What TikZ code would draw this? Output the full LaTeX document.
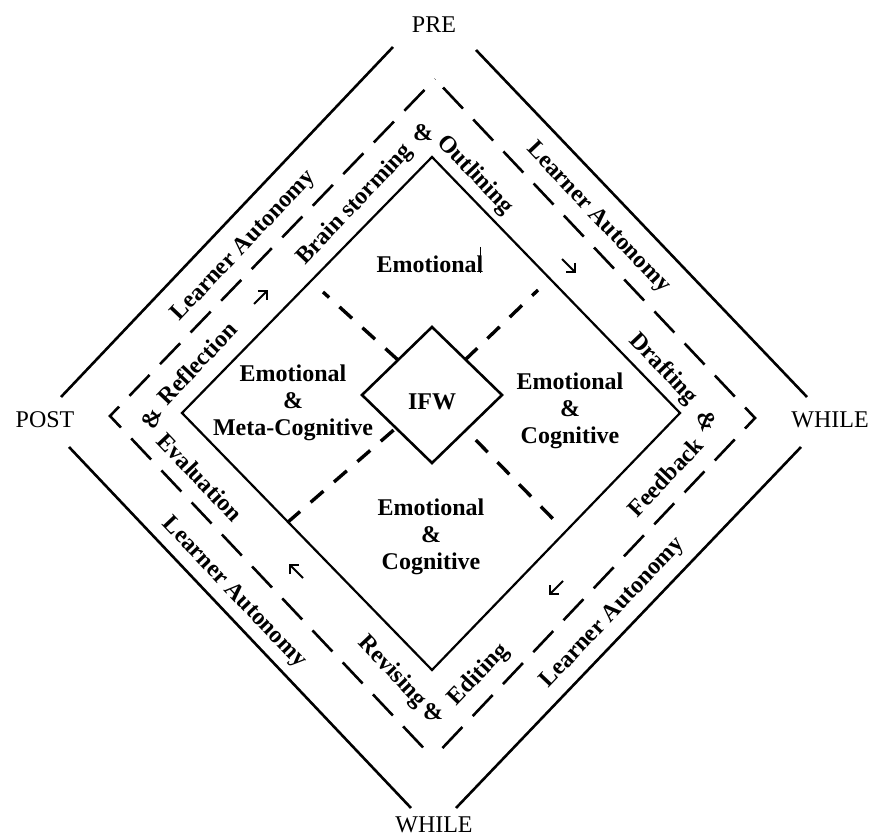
\documentclass[tikz,border=0pt]{standalone}
\usepackage{fontspec}
\setmainfont{Liberation Serif}
\usetikzlibrary{arrows.meta}
\begin{document}
\begin{tikzpicture}[x=0.5pt,y=-0.5pt,
  outer/.style={line width=1.3pt},
  dashedge/.style={line width=1.3pt, dash pattern=on 14.5pt off 7.5pt},
  innerline/.style={line width=1.1pt, line join=miter},
  quad/.style={line width=1.7pt, dash pattern=on 8.5pt off 7pt},
  flow/.style={line width=1pt, -{Straight Barb[length=3.2pt,width=6.4pt]}},
  lbl/.style={inner sep=0pt, font=\fontsize{12}{13.5}\selectfont\bfseries, align=center},
  phase/.style={inner sep=0pt, font=\fontsize{12}{14}\selectfont},
]
\useasboundingbox (0,0) rectangle (872,839);

% outer solid diamond (open corners)
\coordinate (o1a) at (61,397);  \coordinate (o1b) at (393,47);
\coordinate (o2a) at (476,50);  \coordinate (o2b) at (807,397);
\coordinate (o3a) at (69,447);  \coordinate (o3b) at (411,808);
\coordinate (o4a) at (801,447); \coordinate (o4b) at (456,808);
\draw[outer] (o1a) -- (o1b);
\draw[outer] (o2a) -- (o2b);
\draw[outer] (o3a) -- (o3b);
\draw[outer] (o4a) -- (o4b);

% dashed diamond
\coordinate (dT) at (435,79);
\coordinate (dL) at (110,416);
\coordinate (dR) at (755,418);
\coordinate (dB) at (433,758);
\draw[dashedge, dash phase=14.45pt] (dT) -- (dL) -- (dB);
\draw[dashedge, dash phase=16.15pt] (dT) -- (dR) -- (dB);

% inner solid diamond
\coordinate (iT) at (432,157);
\coordinate (iL) at (182,413);
\coordinate (iR) at (680,413);
\coordinate (iB) at (432,670);
\draw[innerline] (iT) -- (iR) -- (iB) -- (iL) -- cycle;

% central IFW diamond
\coordinate (cT) at (432,327);
\coordinate (cL) at (362,395);
\coordinate (cR) at (502,395);
\coordinate (cB) at (432,463);
\draw[outer] (cT) -- (cR) -- (cB) -- (cL) -- cycle;
\node[lbl] (ifw) at (432,402) {IFW};

% quadrant dashed dividers
\coordinate (q1a) at (398,360); \coordinate (q1b) at (323,292);
\coordinate (q2a) at (465,360); \coordinate (q2b) at (538,290);
\coordinate (q3a) at (396,428); \coordinate (q3b) at (288,522);
\coordinate (q4a) at (466,430); \coordinate (q4b) at (557,523);
\draw[quad] (q1a) -- (q1b);
\draw[quad] (q2a) -- (q2b);
\draw[quad, dash phase=13.9pt] (q3a) -- (q3b);
\draw[quad, dash phase=8.5pt] (q4a) -- (q4b);

% quadrant texts
\node[lbl] (qtop) at (430,264) {Emotional};
\draw[line width=0.8pt] (480.5,247) -- (480.5,273);
\node[lbl] (qleft) at (293,403) {Emotional\\\&\\Meta-Cognitive};
\node[lbl] (qright) at (570,411) {Emotional\\\&\\Cognitive};
\node[lbl] (qbottom) at (431,537) {Emotional\\\&\\Cognitive};

% corner labels
\node[phase] (pre) at (434,25) {PRE};
\node[phase] (post) at (45,420) {POST};
\node[phase] (whileR) at (830,420) {WHILE};
\node[phase] (whileB) at (434,825) {WHILE};

% learner autonomy labels
\node[lbl, rotate=46.5] (la1) at (244,246) {Learner Autonomy};
\node[lbl, rotate=-46.5] (la2) at (598,218) {Learner Autonomy};
\node[lbl, rotate=46.5] (la3) at (613,613) {Learner Autonomy};
\node[lbl, rotate=-46.5] (la4) at (234,593) {Learner Autonomy};

% process labels
\node[lbl, rotate=46.5] (brain) at (355,205) {Brain storming};
\node[lbl] (amp1) at (423,133) {\&};
\node[lbl, rotate=-46.5] (outl) at (475,175) {Outlining};
\node[lbl, rotate=-46.5] (draft) at (663,369) {Drafting};
\node[lbl, rotate=-70] (amp2) at (707,421) {\&};
\node[lbl, rotate=46.5] (feed) at (665,477) {Feedback};
\node[lbl, rotate=46.5] (edit) at (479,675) {Editing};
\node[lbl] (amp3) at (433,712) {\&};
\node[lbl, rotate=-46.5] (revis) at (392,672) {Revising};
\node[lbl, rotate=-46.5] (evalu) at (200,477) {Evaluation};
\node[lbl, rotate=70] (amp4) at (152,418) {\&};
\node[lbl, rotate=46.5] (refl) at (197,363) {Reflection};

% flow arrows
\coordinate (a1s) at (254,304); \coordinate (a1e) at (268,290);
\coordinate (a2s) at (562,259); \coordinate (a2e) at (576,273);
\coordinate (a3s) at (563,581); \coordinate (a3e) at (549,595);
\coordinate (a4s) at (303,578); \coordinate (a4e) at (289,564);
\draw[flow] (a1s) -- (a1e);
\draw[flow] (a2s) -- (a2e);
\draw[flow] (a3s) -- (a3e);
\draw[flow] (a4s) -- (a4e);
\end{tikzpicture}
\end{document}
